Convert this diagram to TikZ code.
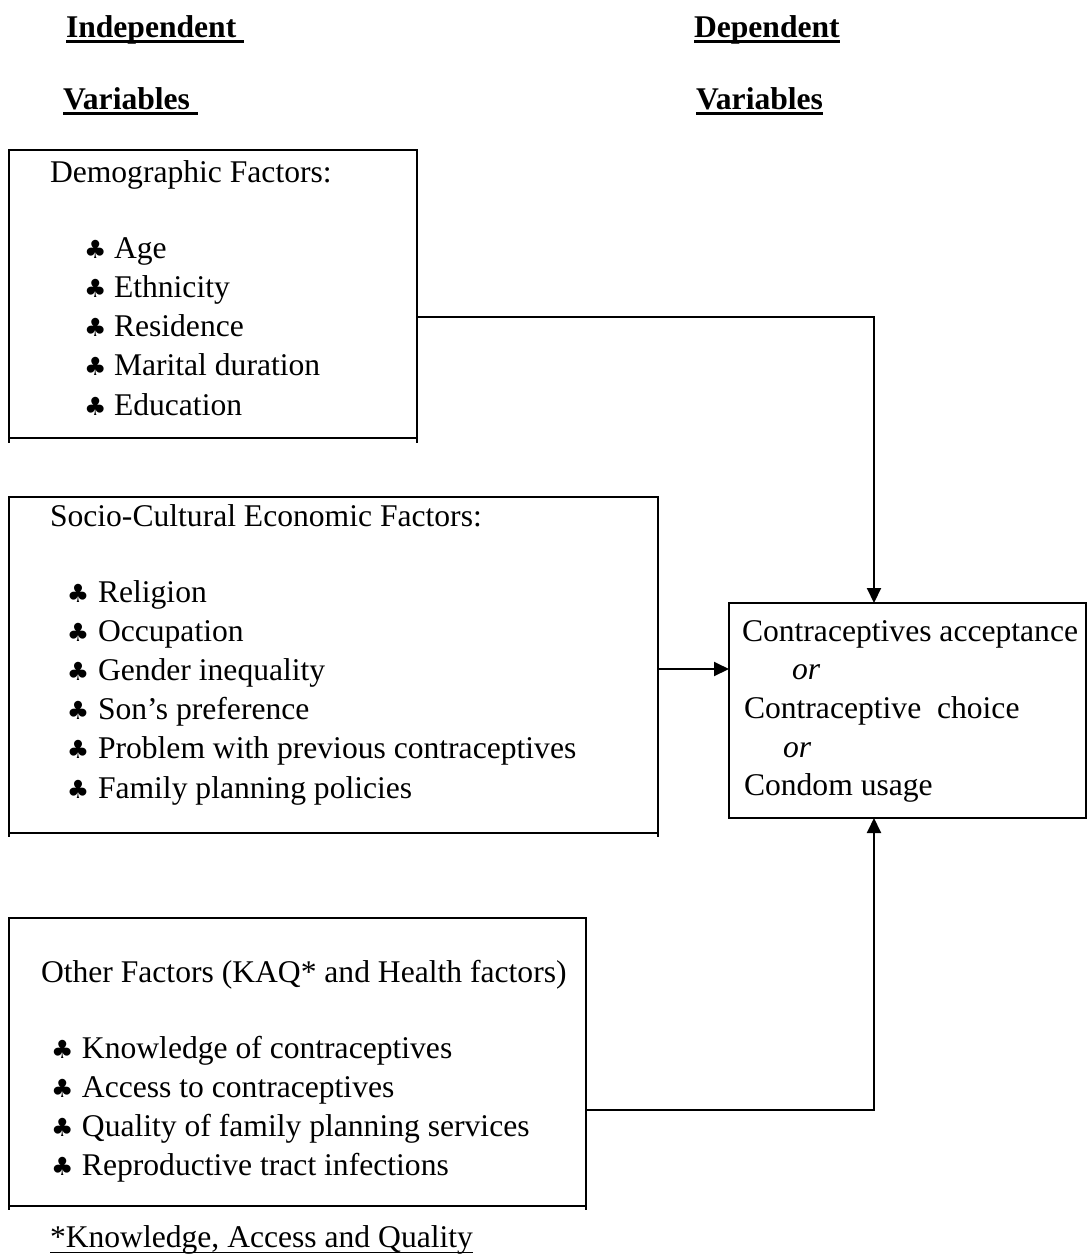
\documentclass[tikz,border=0pt]{standalone}
\usepackage{fontspec}
\setmainfont{Liberation Serif}
\newfontfamily\symfont{DejaVu Sans}
\usetikzlibrary{arrows.meta}
\newcommand\hdrul[1]{\setbox0\hbox{#1}\rlap{\rule[-3.2pt]{\wd0}{1.5pt}}\box0}
\newcommand\thinul[1]{\setbox0\hbox{#1}\rlap{\rule[-3pt]{\wd0}{0.6pt}}\box0}
\begin{document}
\begin{tikzpicture}[x=0.5pt,y=-0.5pt,
 every node/.style={inner sep=0pt, outer sep=0pt},
 txt/.style={anchor=base west, font=\fontsize{15.8}{19}\selectfont},
 hdr/.style={anchor=base west, font=\fontsize{15.8}{19}\selectfont\bfseries},
 club/.style={anchor=base west, font=\symfont\fontsize{12.5}{14}\selectfont},
 box/.style={draw, line width=1pt, anchor=north west},
 tick/.style={line width=1pt},
 arr/.style={line width=1pt, -{Triangle[length=7.5pt,width=7pt]}}]
\useasboundingbox (0,0) rectangle (1088,1260);
% headers
\node[hdr] (h1) at (66,37) {\hdrul{Independent\ }};
\node[hdr] (h2) at (63,109) {\hdrul{Variables\ }};
\node[hdr] (h3) at (694,37) {\hdrul{Dependent}};
\node[hdr] (h4) at (696,109) {\hdrul{Variables}};
% boxes
\node[box, minimum width=204pt, minimum height=144pt] (b1) at (9,150) {};
\node[box, minimum width=324.5pt, minimum height=168pt] (b2) at (9,497) {};
\node[box, minimum width=288.5pt, minimum height=144pt] (b3) at (9,918) {};
\node[box, minimum width=178.5pt, minimum height=107.5pt] (dep) at (729,603) {};
% small ticks below the lower corners of the left boxes
\draw[tick] (b1.south west) -- ++(0,5);
\draw[tick] (b1.south east) -- ++(0,5);
\draw[tick] (b2.south west) -- ++(0,4);
\draw[tick] (b2.south east) -- ++(0,4);
\draw[tick] (b3.south west) -- ++(0,4);
\draw[tick] (b3.south east) -- ++(0,4);
% box 1
\node[txt] (t1) at (50,182) {Demographic Factors:};
\foreach \t [count=\i] in {Age,Ethnicity,Residence,Marital duration,Education}{
  \node[club] (d\i c) at (84,{258+39.3*(\i-1)}) {♣};
  \node[txt] (d\i) at (114,{258+39.3*(\i-1)}) {\t};
}
% box 2
\node[txt] (t2) at (50,526) {Socio-Cultural Economic Factors:};
\foreach \t [count=\i] in {Religion,Occupation,Gender inequality,Son’s preference,Problem with previous contraceptives,Family planning policies}{
  \node[club] (s\i c) at (67,{602+39.2*(\i-1)}) {♣};
  \node[txt] (s\i) at (98,{602+39.2*(\i-1)}) {\t};
}
% box 3
\node[txt] (t3) at (41,982) {Other Factors (KAQ* and Health factors)};
\foreach \t [count=\i] in {Knowledge of contraceptives,Access to contraceptives,Quality of family planning services,Reproductive tract infections}{
  \node[club] (o\i c) at (51,{1058+39.3*(\i-1)}) {♣};
  \node[txt] (o\i) at (82,{1058+39.3*(\i-1)}) {\t};
}
\node[txt] (fn) at (50,1247) {\thinul{*Knowledge, Access and Quality}};
% dependent box text
\node[txt] (r1) at (742,641) {Contraceptives acceptance};
\node[txt] (r2) at (792,679) {\itshape or};
\node[txt] (r3) at (744,718) {Contraceptive\ \ choice};
\node[txt] (r4) at (783,757) {\itshape or};
\node[txt] (r5) at (744,795) {Condom usage};
% connectors
\coordinate (j1) at (874,317);
\coordinate (j2) at (700,669);
\coordinate (j3) at (874,1110);
\draw[arr] (b1.east |- j1) -| (dep.north -| j1);
\draw[arr] (b2.east |- j2) -- (dep.west |- j2);
\draw[arr] (b3.east |- j3) -| (dep.south -| j3);
\end{tikzpicture}
\end{document}
